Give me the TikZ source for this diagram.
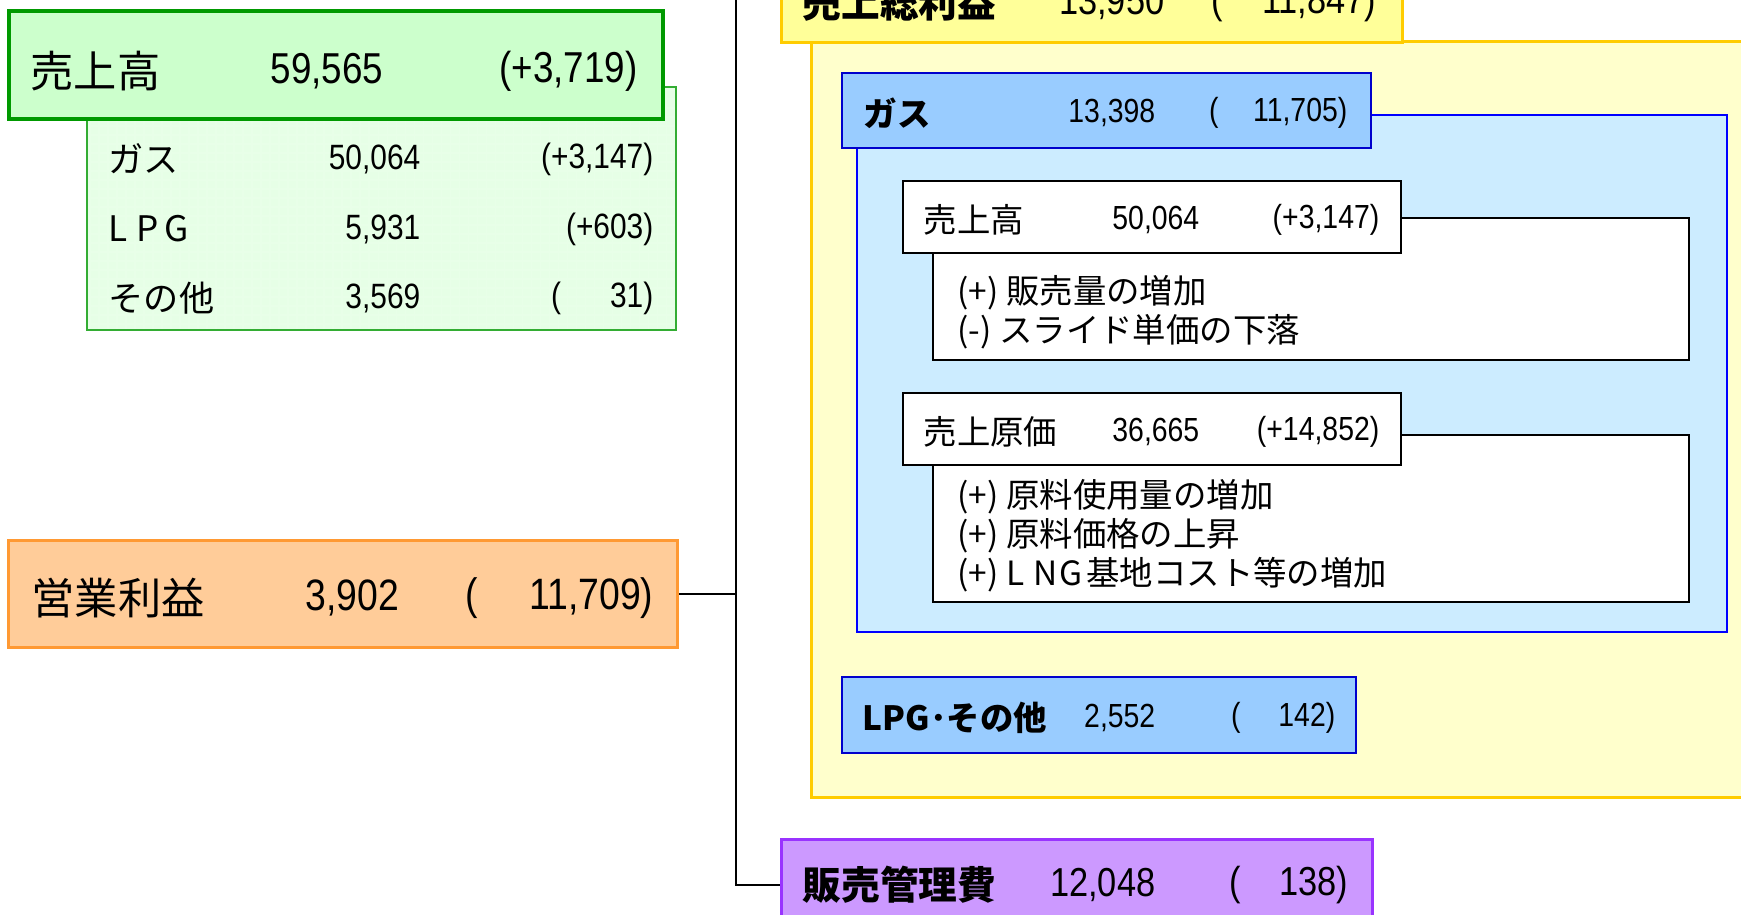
\documentclass[tikz,border=0pt]{standalone}
\usepackage{fontspec}
\setmainfont{Noto Sans CJK JP}
\newfontfamily\numfont[FakeStretch=0.85]{Liberation Sans}
\definecolor{salesline}{HTML}{009900}
\definecolor{salesfill}{HTML}{CCFFCC}
\definecolor{detfill}{HTML}{E6FFE6}
\definecolor{opline}{HTML}{FF9933}
\definecolor{opfill}{HTML}{FFCC99}
\definecolor{grossline}{HTML}{FFCC00}
\definecolor{grossfill}{HTML}{FFFF99}
\definecolor{grosspanel}{HTML}{FFFFCC}
\definecolor{gasline}{HTML}{0000CC}
\definecolor{gasfill}{HTML}{99CCFF}
\definecolor{gaspanel}{HTML}{CCECFF}
\definecolor{sgaline}{HTML}{9933FF}
\definecolor{sgafill}{HTML}{CC99FF}
\newcommand\gapamt[2]{\makebox[#1][l]{(\hfill#2)}}
\newcommand\spc[1]{\makebox[0.8em][l]{#1}}
\def\big{\fontsize{12.3}{14}\selectfont}
\def\mid{\fontsize{10}{12}\selectfont}
\def\sml{\fontsize{9.5}{11.1}\selectfont}

\begin{document}
\begin{tikzpicture}[x=0.01cm,y=-0.01cm,
  box/.style={draw, inner sep=0pt, outer sep=0pt},
  lbl/.style={inner sep=0pt, anchor=west},
  num/.style={inner sep=0pt, anchor=east, execute at begin node=\numfont},
  conn/.style={draw=black, line width=0.6pt}]
\useasboundingbox (0,0) rectangle (1741,915);
\clip (0,0) rectangle (1741,915);

% connectors
\coordinate (jn) at (736,0);
\draw[conn] (1092,-4) -| (jn) |- (1077,885);
\draw[conn] (677,594) -- (736,594);

% sales (left)
\node[box, fill=detfill, draw=none, minimum width=5.89cm, minimum height=2.43cm] (salesdet) at (381.5,208.5) {};
\begin{scope}
  \clip (87,87) rectangle (676,330);
  \draw[green!9, step=0.09cm] (87,87) grid (676,330);
\end{scope}
\draw[salesline!80, line width=0.6pt] (salesdet.south west) rectangle (salesdet.north east);
\node[box, fill=salesfill, draw=salesline, line width=1.1pt, minimum width=6.54cm, minimum height=1.08cm] (sales) at (336,65) {};
\node[lbl, font=\big] (salesL) at (30,71) {売上高};
\node[num, font=\big] (salesN) at (384,71) {59,565};
\node[num, font=\big] (salesC) at (638,71) {(+3,719)};
\node[lbl, font=\mid] (s1L) at (108,159) {ガス};
\node[num, font=\mid] (s1N) at (421,159) {50,064};
\node[num, font=\mid] (s1C) at (654,159) {(+3,147)};
\node[lbl, font=\mid] (s2L) at (108,229) {\spc{L}\spc{P}G};
\node[num, font=\mid] (s2N) at (421,229) {5,931};
\node[num, font=\mid] (s2C) at (654,229) {(+603)};
\node[lbl, font=\mid] (s3L) at (108,298) {その他};
\node[num, font=\mid] (s3N) at (421,298) {3,569};
\node[num, font=\mid] (s3C) at (654,298) {\gapamt{1.02cm}{31}};

% operating income
\node[box, fill=opfill, draw=opline, line width=0.85pt, minimum width=6.68cm, minimum height=1.06cm] (opinc) at (343,594) {};
\node[lbl, font=\fontsize{12.3}{14}\selectfont] (opL) at (31,598) {営業利益};
\node[num, font=\fontsize{12.5}{14}\selectfont] (opN) at (400,598) {3,902};
\node[num, font=\fontsize{12.5}{14}\selectfont] (opC) at (654,598) {\gapamt{1.88cm}{11,709}};

% gross profit
\node[box, fill=grosspanel, draw=grossline, line width=0.8pt, minimum width=9.40cm, minimum height=7.55cm] (grosspnl) at (1282,419.5) {};
\node[box, fill=grossfill, draw=grossline, line width=0.85pt, minimum width=6.20cm, minimum height=0.92cm] (gross) at (1092,-4) {};
\node[lbl, font=\fontsize{11}{13}\selectfont\bfseries] (grossL) at (802,3) {売上総利益};
\node[num, font=\fontsize{11.5}{13}\selectfont] (grossN) at (1165,3) {13,950};
\node[num, font=\fontsize{11.5}{13}\selectfont] (grossC) at (1377,3) {\gapamt{1.65cm}{11,847}};

% gas
\node[box, fill=gaspanel, draw=blue, line width=0.45pt, minimum width=8.70cm, minimum height=5.17cm] (gaspnl) at (1292,373.5) {};
\node[box, fill=gasfill, draw=gasline, line width=0.6pt, minimum width=5.29cm, minimum height=0.75cm] (gas) at (1106.5,110.5) {};
\node[lbl, font=\sml\bfseries] (gasL) at (863,113) {ガス};
\node[num, font=\sml] (gasN) at (1156,113) {13,398};
\node[num, font=\sml] (gasC) at (1348,113) {\gapamt{1.38cm}{11,705}};

\node[box, fill=white, line width=0.7pt, minimum width=7.56cm, minimum height=1.42cm] (gsalesdet) at (1311,289) {};
\node[box, fill=white, line width=0.7pt, minimum width=4.98cm, minimum height=0.72cm] (gsales) at (1152,217) {};
\node[lbl, font=\sml] (gsalesL) at (923,220) {売上高};
\node[num, font=\sml] (gsalesN) at (1200,220) {50,064};
\node[num, font=\sml] (gsalesC) at (1380,220) {(+3,147)};
\node[lbl, font=\sml, align=left] (gsalesT) at (957,312) {(+) 販売量の増加\\(-) スライド単価の下落};

\node[box, fill=white, line width=0.7pt, minimum width=7.56cm, minimum height=1.67cm] (gcostdet) at (1311,518.5) {};
\node[box, fill=white, line width=0.7pt, minimum width=4.98cm, minimum height=0.72cm] (gcost) at (1152,429) {};
\node[lbl, font=\sml] (gcostL) at (923,432) {売上原価};
\node[num, font=\sml] (gcostN) at (1200,432) {36,665};
\node[num, font=\sml] (gcostC) at (1380,432) {(+14,852)};
\node[lbl, font=\sml, align=left] (gcostT) at (957,536) {(+) 原料使用量の増加\\(+) 原料価格の上昇\\(+) \spc{L}\spc{N}\spc{G}基地コスト等の増加};

% lpg and others
\node[box, fill=gasfill, draw=gasline, line width=0.6pt, minimum width=5.14cm, minimum height=0.76cm] (lpg) at (1099,715) {};
\node[lbl, font=\sml\bfseries] (lpgL) at (862,718) {LPG･その他};
\node[num, font=\sml] (lpgN) at (1156,718) {2,552};
\node[num, font=\sml] (lpgC) at (1336,718) {\gapamt{1.04cm}{142}};

% selling, general and admin
\node[box, fill=sgafill, draw=sgaline, line width=0.85pt, minimum width=5.90cm, minimum height=0.90cm] (sga) at (1077,885) {};
\node[lbl, font=\fontsize{11}{13}\selectfont\bfseries] (sgaL) at (802,885) {販売管理費};
\node[num, font=\fontsize{11.5}{13}\selectfont] (sgaN) at (1156,885) {12,048};
\node[num, font=\fontsize{11.5}{13}\selectfont] (sgaC) at (1349,885) {\gapamt{1.19cm}{138}};
\end{tikzpicture}
\end{document}
